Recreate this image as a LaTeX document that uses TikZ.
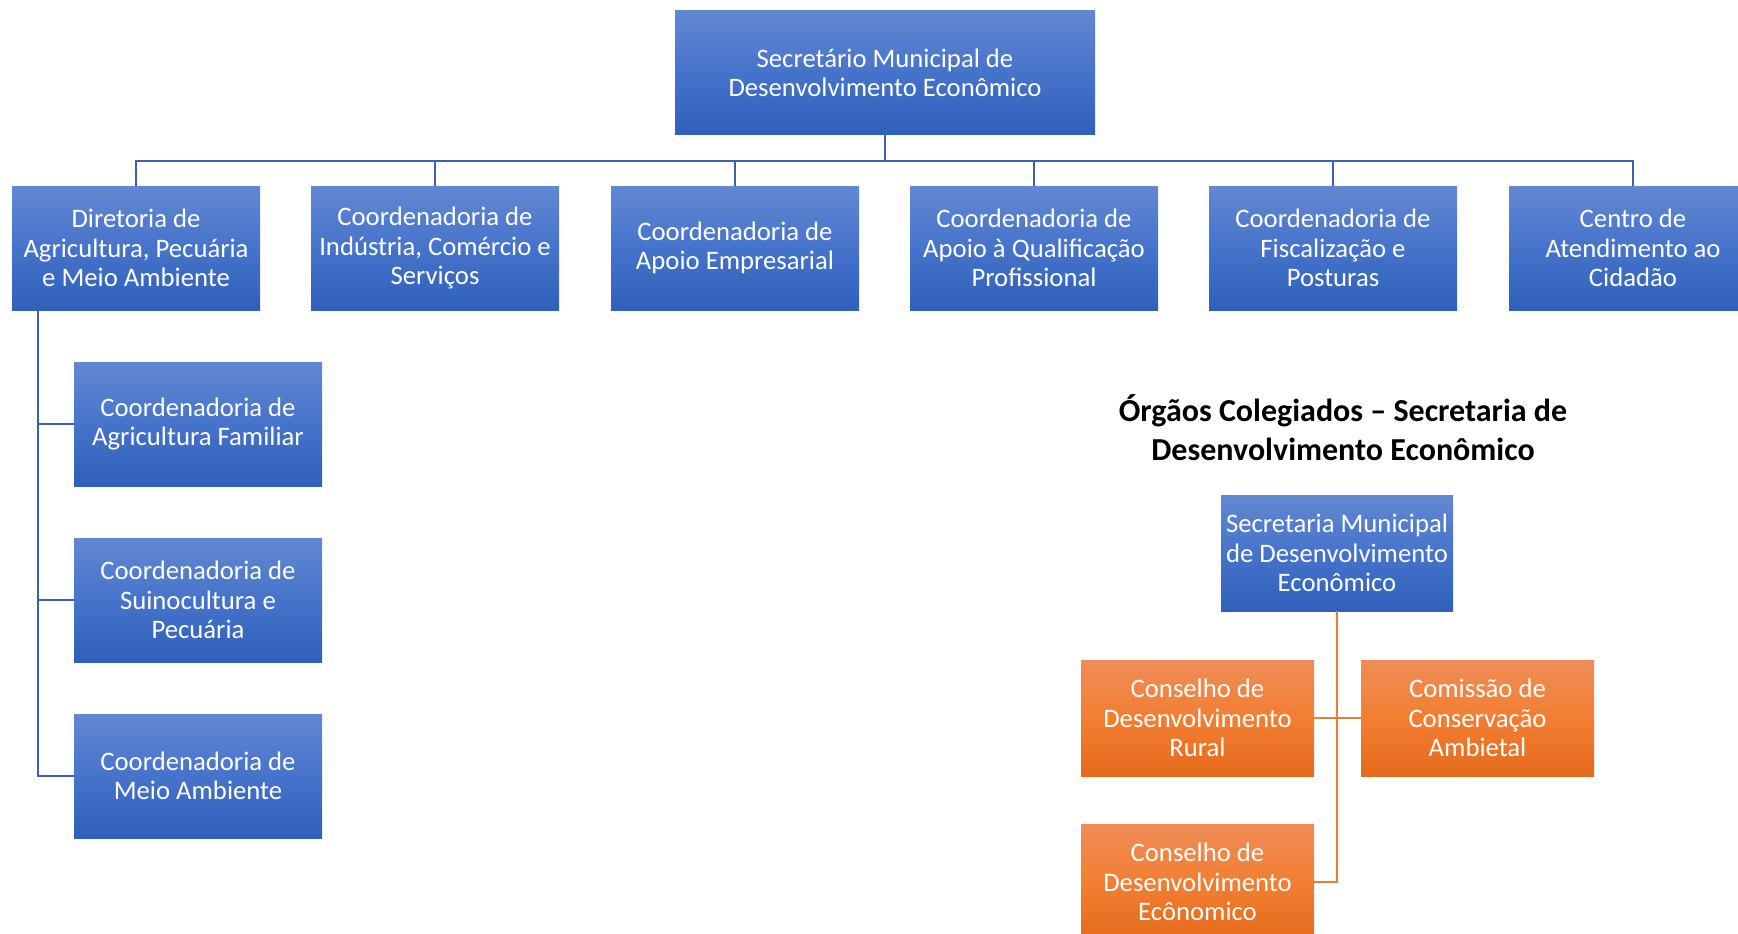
\documentclass[tikz,border=0pt]{standalone}
\usepackage{fontspec}
\setmainfont{Carlito}
\definecolor{BlueTop}{HTML}{6288D2}
\definecolor{BlueMid}{HTML}{4673CB}
\definecolor{BlueBot}{HTML}{2F60BA}
\definecolor{OrgTop}{HTML}{F08D58}
\definecolor{OrgMid}{HTML}{F37E32}
\definecolor{OrgBot}{HTML}{E46A1B}
\definecolor{LineBlue}{HTML}{3A62AE}
\definecolor{LineOrg}{HTML}{ED7D31}

\begin{document}
\begin{tikzpicture}[x=1pt,y=-1pt,
  boxbase/.style={rectangle,inner sep=0pt,align=center,text=white,
    font=\fontsize{26.7}{29.3}\selectfont},
  bluebox/.style={boxbase,top color=BlueTop,bottom color=BlueBot,middle color=BlueMid,
    minimum width=248,minimum height=124},
  orgbox/.style={boxbase,top color=OrgTop,bottom color=OrgBot,middle color=OrgMid,
    minimum width=233,minimum height=116},
  blueline/.style={draw=LineBlue,line width=1.6pt},
  orgline/.style={draw=LineOrg,line width=1.6pt}]
\useasboundingbox (0,0) rectangle (1738,934);
\clip (0,0) rectangle (1738,934);

\node[bluebox,minimum width=420,minimum height=123] (sec) at (885,72.5)
  {Secretário Municipal de\\Desenvolvimento Econômico};

\node[bluebox] (d1) at (136,248) {Diretoria de\\Agricultura, Pecuária\\e Meio Ambiente};
\node[bluebox] (d2) at (435,248) {Coordenadoria de\\Indústria, Comércio e\\Serviços};
\node[bluebox] (d3) at (735,248) {Coordenadoria de\\Apoio Empresarial};
\node[bluebox] (d4) at (1034,248) {Coordenadoria de\\Apoio à Qualificação\\Profissional};
\node[bluebox] (d5) at (1333,248) {Coordenadoria de\\Fiscalização e\\Posturas};
\node[bluebox] (d6) at (1633,248) {Centro de\\Atendimento ao\\Cidadão};

\node[bluebox] (s1) at (198,424) {Coordenadoria de\\Agricultura Familiar};
\node[bluebox] (s2) at (198,600) {Coordenadoria de\\Suinocultura e\\Pecuária};
\node[bluebox] (s3) at (198,776) {Coordenadoria de\\Meio Ambiente};

\coordinate (bus) at (885,161);
\coordinate (lft) at (38,310);
\foreach \n in {d1,d2,d3,d4,d5,d6}
  \draw[blueline] (sec.south) |- (bus -| \n) -- (\n.north);
\foreach \n in {s1,s2,s3}
  \draw[blueline] (lft) |- (\n.west);

\node[align=center,font=\fontsize{32}{39}\selectfont\bfseries] (title) at (1343,428)
  {Órgãos Colegiados – Secretaria de\\Desenvolvimento Econômico};

\node[bluebox,minimum width=232,minimum height=116] (cs) at (1337,553)
  {Secretaria Municipal\\de Desenvolvimento\\Econômico};
\node[orgbox] (o1) at (1197.5,718) {Conselho de\\Desenvolvimento\\Rural};
\node[orgbox] (o2) at (1477.5,718) {Comissão de\\Conservação\\Ambietal};
\node[orgbox] (o3) at (1197.5,882) {Conselho de\\Desenvolvimento\\Ecônomico};

\draw[orgline] (cs.south) -- (cs.south |- o3.east) -- (o3.east);
\draw[orgline] (o1.east) -- (o2.west);
\end{tikzpicture}
\end{document}
